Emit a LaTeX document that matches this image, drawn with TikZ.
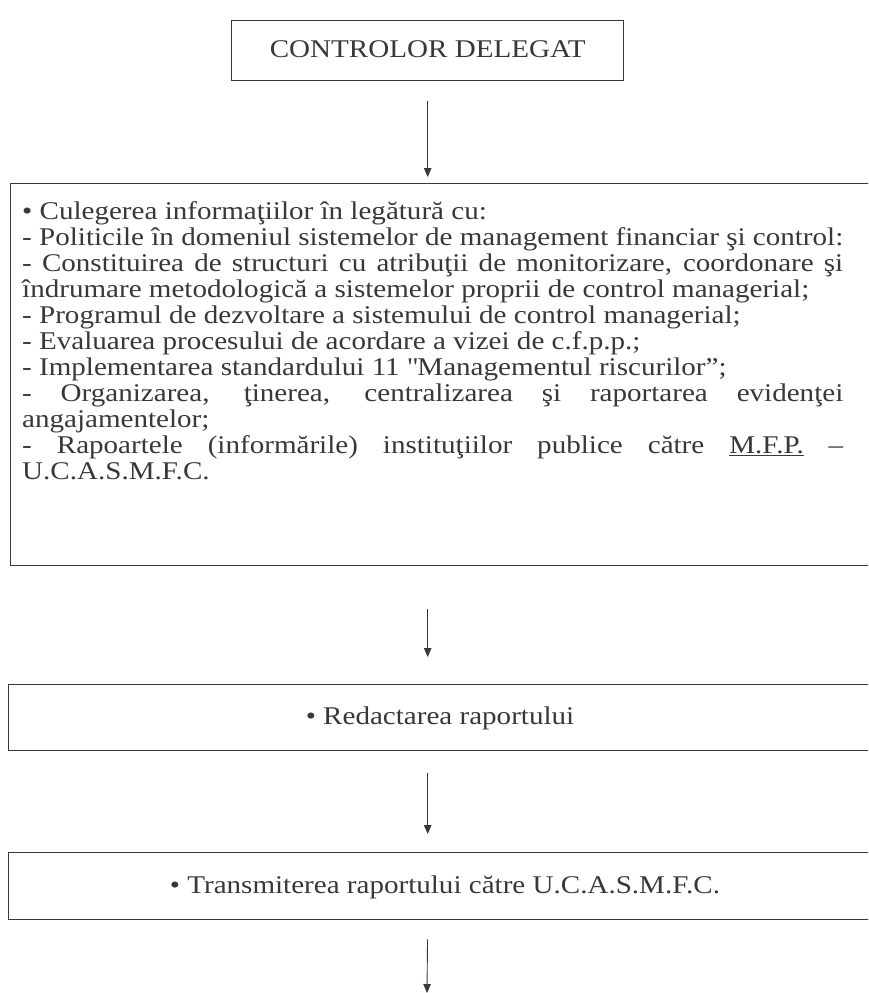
\documentclass[tikz,border=0pt]{standalone}
\usepackage{fontspec}
\setmainfont{Liberation Serif}[FakeStretch=1.14]
\usetikzlibrary{arrows.meta}
\definecolor{ink}{gray}{0.22}
\newcommand{\bodyfont}{\fontsize{25.5}{26}\selectfont}
\newcommand{\jline}[1]{\makebox[821pt][s]{#1}}
\begin{document}
\begin{tikzpicture}[x=1pt,y=-1pt,
  box/.style={draw=ink, line width=1.4pt, inner sep=0pt, text=ink, font=\bodyfont},
  txtline/.style={anchor=base west, inner sep=0pt, text=ink, font=\bodyfont},
  arr/.style={draw=ink, line width=0.9pt, -{Triangle[length=9pt,width=7.5pt]}}]
\path[use as bounding box, clip] (0,0) rectangle (868,993);
\fill[white] (0,0) rectangle (868,993);
% boxes
\node[box, minimum width=392pt, minimum height=60pt, anchor=north west] (ctrl) at (231,20) {\raisebox{3pt}{CONTROLOR DELEGAT}};
\node[box, minimum width=875pt, minimum height=382pt, anchor=north west] (info) at (10,183) {};
\node[box, minimum width=875pt, minimum height=66pt, anchor=north west] (redact) at (8,684) {};
\node[box, minimum width=875pt, minimum height=67pt, anchor=north west] (transm) at (8,852) {};
\node[txtline, anchor=base] (redacttxt) at (440,724) {• Redactarea raportului};
\node[txtline, anchor=base] (transmtxt) at (445,893) {• Transmiterea raportului către U.C.A.S.M.F.C.};
% text lines of the big box
\node[txtline] (l1) at (22,219) {• Culegerea informaţiilor în legătură cu:};
\node[txtline] (l2) at (22,245) {- Politicile în domeniul sistemelor de management financiar şi control:};
\node[txtline] (l3) at (22,271) {\jline{- Constituirea de structuri cu atribuţii de monitorizare, coordonare şi}};
\node[txtline] (l4) at (22,297) {îndrumare metodologică a sistemelor proprii de control managerial;};
\node[txtline] (l5) at (22,323) {- Programul de dezvoltare a sistemului de control managerial;};
\node[txtline] (l6) at (22,349) {- Evaluarea procesului de acordare a vizei de c.f.p.p.;};
\node[txtline] (l7) at (22,375) {- Implementarea standardului 11 \textquotedbl Managementul riscurilor”;};
\node[txtline] (l8) at (22,401) {\jline{- Organizarea, ţinerea, centralizarea şi raportarea evidenţei}};
\node[txtline] (l9) at (22,427) {angajamentelor;};
\node[txtline] (l10) at (22,453) {\jline{- Rapoartele (informările) instituţiilor publice către \underline{M.F.P.} –}};
\node[txtline] (l11) at (22,479) {U.C.A.S.M.F.C.};
% connectors
\draw[arr, shorten <=20pt, shorten >=6pt] (ctrl.south) -- (ctrl.south |- info.north);
\draw[arr, shorten <=43pt, shorten >=27pt] (ctrl.south |- info.south) -- (ctrl.south |- redact.north);
\draw[arr, shorten <=22pt, shorten >=18pt] (ctrl.south |- redact.south) -- (ctrl.south |- transm.north);
\coordinate (end) at (427,993);
\draw[arr, shorten <=19pt] (ctrl.south |- transm.south) -- (end);
\end{tikzpicture}
\end{document}
